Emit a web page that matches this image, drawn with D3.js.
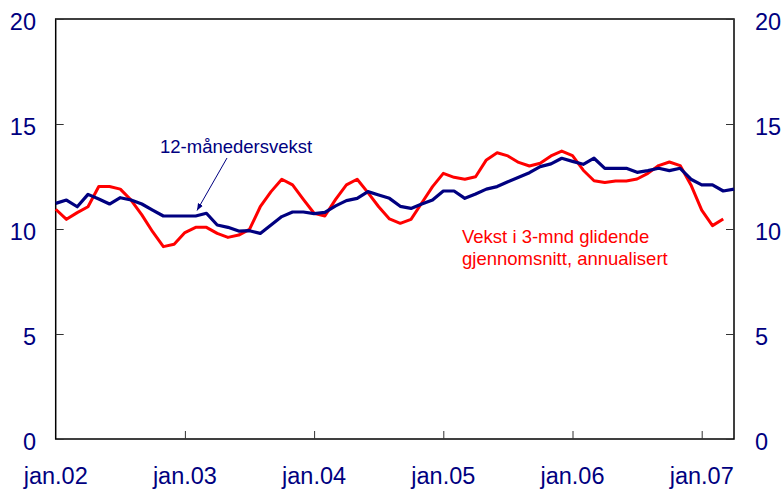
<!DOCTYPE html>
<html>
<head>
<meta charset="utf-8">
<script src="https://cdn.jsdelivr.net/npm/d3@7"></script>
<style>
  body { margin: 0; background: #fff; }
  svg { display: block; font-family: Arial, "Liberation Sans", sans-serif; }
</style>
</head>
<body>
<svg id="chart" width="782" height="492"></svg>
<script>
// monthly data, jan.02 .. apr.07
const twelveMonth = [
  11.22, 11.38, 11.06, 11.65, 11.43, 11.19, 11.49, 11.38, 11.19, 10.9, 10.62, 10.62,
  10.62, 10.62, 10.75, 10.19, 10.08, 9.9, 9.92, 9.79, 10.19, 10.59, 10.81, 10.81,
  10.73, 10.79, 11.1, 11.35, 11.46, 11.78, 11.62, 11.46, 11.08, 10.98, 11.19, 11.38,
  11.81, 11.81, 11.46, 11.67, 11.9, 12.02, 12.25, 12.46, 12.68, 12.97, 13.1, 13.37,
  13.22, 13.08, 13.37, 12.89, 12.89, 12.89, 12.7, 12.78, 12.89, 12.78, 12.89, 12.37,
  12.1, 12.1, 11.81, 11.9
];
const threeMonth = [
  10.94, 10.46, 10.78, 11.06, 12.02, 12.02, 11.9, 11.38, 10.67, 9.87, 9.16, 9.27,
  9.83, 10.08, 10.08, 9.79, 9.6, 9.71, 9.98, 11.06, 11.78, 12.37, 12.1, 11.41,
  10.75, 10.62, 11.41, 12.1, 12.37, 11.73, 11.06, 10.48, 10.27, 10.46, 11.24, 12.02,
  12.65, 12.46, 12.37, 12.49, 13.29, 13.63, 13.48, 13.17, 13.0, 13.13, 13.48, 13.71,
  13.49, 12.8, 12.3, 12.21, 12.29, 12.29, 12.38, 12.65, 13.02, 13.19, 13.02, 12.1,
  10.9, 10.16, 10.48
];
const xTickLabels = ['jan.02', 'jan.03', 'jan.04', 'jan.05', 'jan.06', 'jan.07'];
const xTickIndex = [0, 12, 24, 36, 48, 60];
const yTicks = [0, 5, 10, 15, 20];

const navy = '#000080';
const red = '#ff0000';

const plotL = 55.7, plotR = 734, plotT = 19, plotB = 439;
const svg = d3.select('#chart');

const x = d3.scaleLinear().domain([0, 63]).range([plotL, plotR]);
const y = d3.scaleLinear().domain([0, 20]).range([plotB, plotT]);

// frame
svg.append('rect')
  .attr('x', plotL).attr('y', plotT)
  .attr('width', plotR - plotL).attr('height', plotB - plotT)
  .attr('fill', 'none').attr('stroke', '#000').attr('stroke-width', 1.5);

// left + right axes, ticks point inward
const yLeft = svg.append('g').attr('transform', `translate(${plotL},0)`)
  .call(d3.axisRight(y).tickValues(yTicks).tickSize(8).tickFormat(''));
yLeft.select('.domain').remove();
yLeft.selectAll('line').attr('stroke', '#333');

const yRight = svg.append('g').attr('transform', `translate(${plotR},0)`)
  .call(d3.axisLeft(y).tickValues(yTicks).tickSize(8).tickFormat(''));
yRight.select('.domain').remove();
yRight.selectAll('line').attr('stroke', '#333');

// y labels both sides
svg.selectAll('.yl').data(yTicks).join('text')
  .attr('x', 36).attr('y', d => y(d) + 10.5)
  .attr('text-anchor', 'end')
  .attr('font-size', 23.5).attr('fill', navy)
  .text(d => d);
svg.selectAll('.yr').data(yTicks).join('text')
  .attr('x', 755).attr('y', d => y(d) + 10.5)
  .attr('text-anchor', 'start')
  .attr('font-size', 23.5).attr('fill', navy)
  .text(d => d);

// x axis ticks (pointing up) and labels
const xAxis = svg.append('g').attr('transform', `translate(0,${plotB})`)
  .call(d3.axisTop(x).tickValues(xTickIndex.slice(1)).tickSize(8).tickFormat(''));
xAxis.select('.domain').remove();
xAxis.selectAll('line').attr('stroke', '#333');

svg.selectAll('.xl').data(xTickLabels).join('text')
  .attr('x', (d, i) => x(xTickIndex[i]))
  .attr('y', 483.5)
  .attr('text-anchor', 'middle')
  .attr('font-size', 23.5).attr('fill', navy)
  .text(d => d);

// lines
const line = d3.line().x((d, i) => x(i)).y(d => y(d));

svg.append('path').datum(threeMonth)
  .attr('d', line)
  .attr('fill', 'none').attr('stroke', red)
  .attr('stroke-width', 3).attr('stroke-linejoin', 'round');

svg.append('path').datum(twelveMonth)
  .attr('d', line)
  .attr('fill', 'none').attr('stroke', navy)
  .attr('stroke-width', 3.2).attr('stroke-linejoin', 'round');

// annotations
svg.append('text')
  .attr('x', 160).attr('y', 152.5)
  .attr('font-size', 18.5).attr('fill', navy)
  .text('12-månedersvekst');

svg.append('defs').append('marker')
  .attr('id', 'arrow')
  .attr('viewBox', '0 -5 10 10')
  .attr('refX', 10).attr('refY', 0)
  .attr('markerWidth', 7).attr('markerHeight', 7)
  .attr('orient', 'auto')
  .append('path')
  .attr('d', 'M0,-4L10,0L0,4Z')
  .attr('fill', navy);

svg.append('line')
  .attr('x1', 227).attr('y1', 158)
  .attr('x2', 197).attr('y2', 210.5)
  .attr('stroke', navy).attr('stroke-width', 1)
  .attr('marker-end', 'url(#arrow)');

const redLabel = svg.append('text')
  .attr('font-size', 18.5).attr('fill', red);
redLabel.append('tspan').attr('x', 462).attr('y', 242.5).text('Vekst i 3-mnd glidende');
redLabel.append('tspan').attr('x', 462).attr('y', 265).text('gjennomsnitt, annualisert');
</script>
</body>
</html>
